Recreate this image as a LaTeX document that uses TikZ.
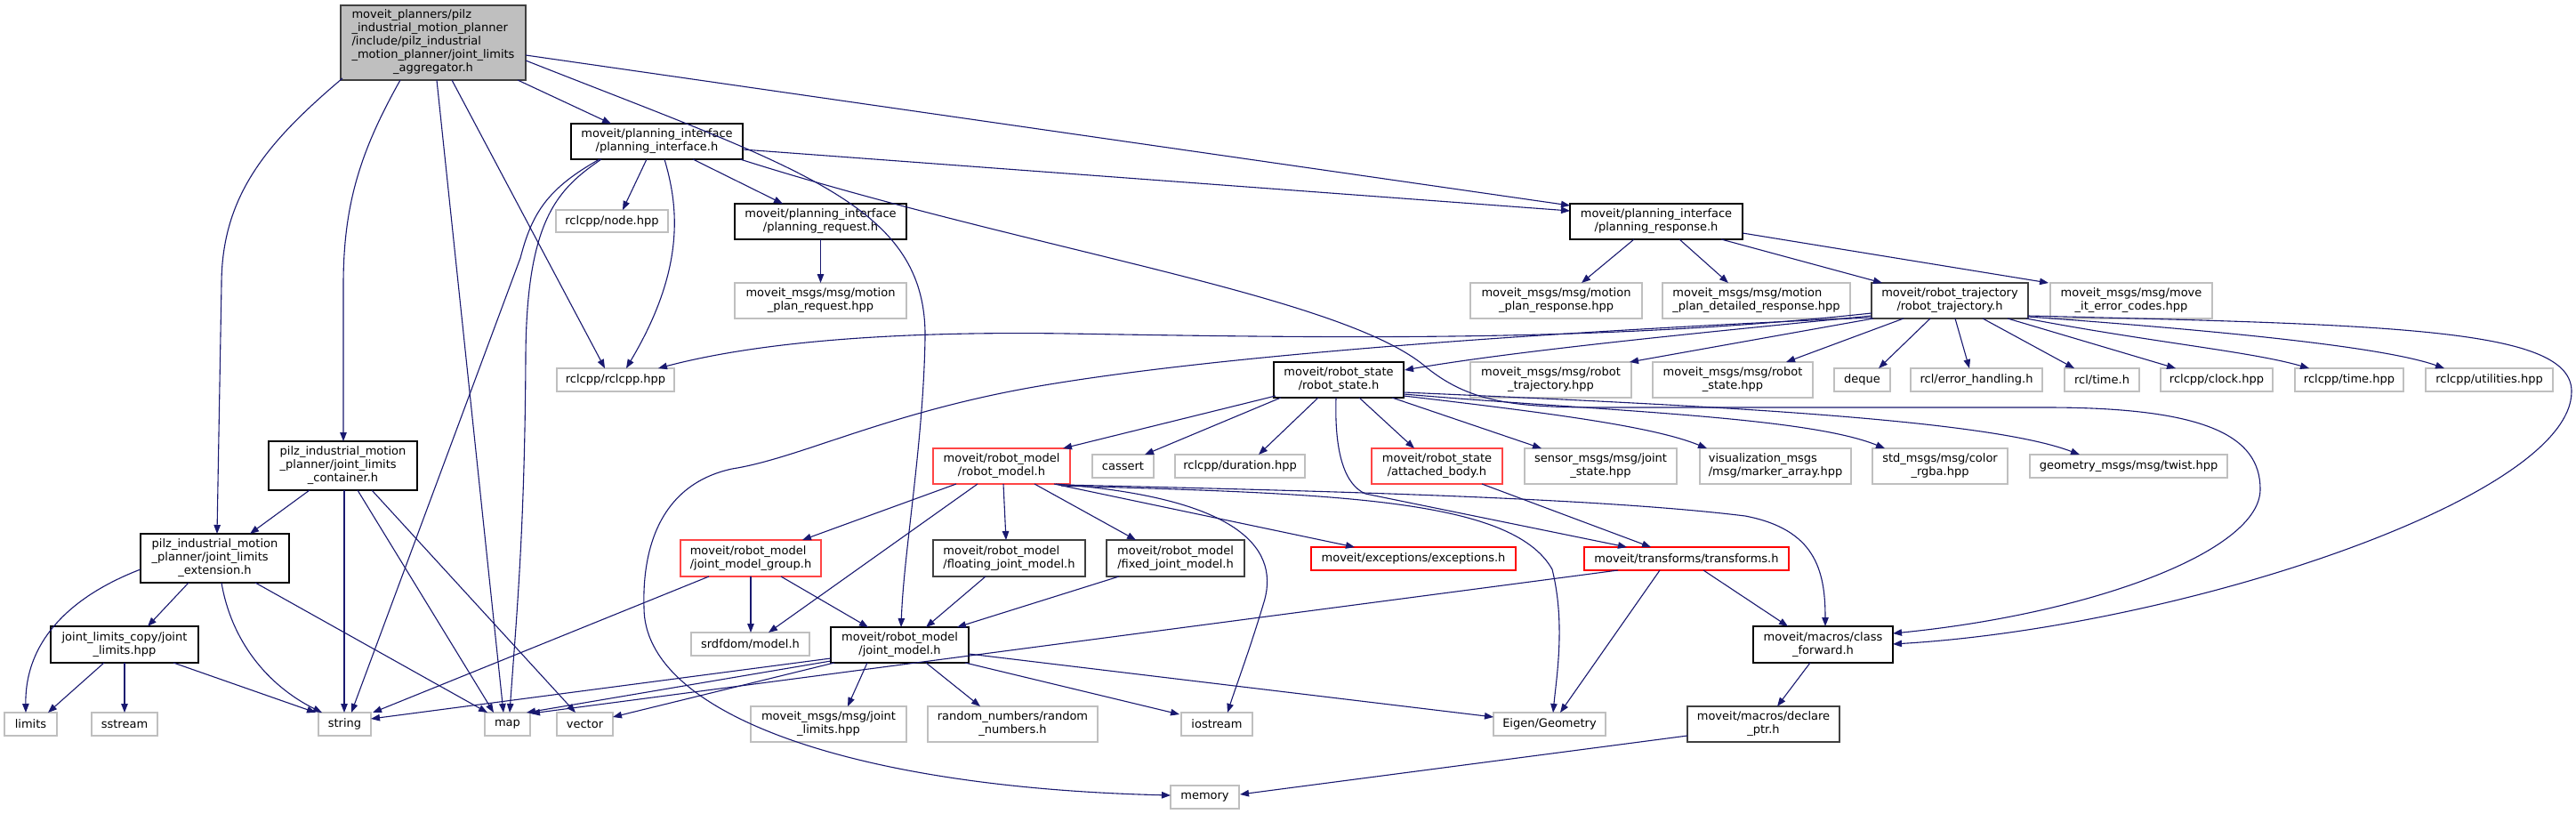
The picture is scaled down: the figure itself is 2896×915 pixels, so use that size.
\documentclass[tikz,border=0pt]{standalone}
\usepackage{fontspec}
\newfontfamily\dvs{DejaVu Sans}
\usetikzlibrary{arrows.meta,calc}
\definecolor{edgec}{HTML}{191970}
\definecolor{grayb}{HTML}{BFBFBF}
\definecolor{darkb}{HTML}{404040}
\definecolor{redl}{HTML}{FF4545}
\newcommand{\tb}[1]{\begin{tabular}{@{}l@{}}#1\end{tabular}}
\newcommand{\Lc}[1]{\multicolumn{1}{@{}c@{}}{#1}}
\begin{document}
\begin{tikzpicture}[x=1pt,y=-1pt,
 nb/.style={rectangle,inner sep=0pt,font=\dvs\fontsize{13}{15}\selectfont,text=black,fill=white},
 sz/.style 2 args={minimum width=#1pt,minimum height=#2pt},
 blk/.style={nb,draw=black,line width=1.3pt},
 dk/.style={nb,draw=darkb,line width=1.7pt},
 gry/.style={nb,draw=grayb,line width=1.5pt},
 rd/.style={nb,draw=red,line width=1.4pt},
 rdl/.style={nb,draw=redl,line width=1.6pt},
 mainb/.style={nb,draw=darkb,fill=grayb,line width=1.6pt},
 e/.style={draw=edgec,line width=1.1pt,-{Triangle[length=10pt,width=7.5pt]}}
]
\useasboundingbox[fill=white] (0,0) rectangle (2896,915);
% nodes
\node[mainb,sz={208}{84}] (main) at (487,48) {\tb{moveit\_planners/pilz\\\_industrial\_motion\_planner\\/include/pilz\_industrial\\\_motion\_planner/joint\_limits\\\Lc{\_aggregator.h}}};
\node[blk,sz={193}{40}] (pi) at (738.5,159) {\tb{moveit/planning\_interface\\\Lc{/planning\_interface.h}}};
\node[gry,sz={126}{25}] (nodehpp) at (688,248.5) {rclcpp/node.hpp};
\node[blk,sz={193}{40}] (preq) at (922.5,249) {\tb{moveit/planning\_interface\\\Lc{/planning\_request.h}}};
\node[gry,sz={193}{40}] (mpreq) at (922.5,338) {\tb{moveit\_msgs/msg/motion\\\Lc{\_plan\_request.hpp}}};
\node[gry,sz={132}{26}] (rclcpp) at (692,427) {rclcpp/rclcpp.hpp};
\node[blk,sz={194}{40}] (pr) at (1862,249) {\tb{moveit/planning\_interface\\\Lc{/planning\_response.h}}};
\node[gry,sz={193}{40}] (mpresp) at (1749.5,338) {\tb{moveit\_msgs/msg/motion\\\Lc{\_plan\_response.hpp}}};
\node[gry,sz={211}{40}] (mpdet) at (1974.5,338) {\tb{moveit\_msgs/msg/motion\\\Lc{\_plan\_detailed\_response.hpp}}};
\node[dk,sz={176}{40}] (rt) at (2192,338) {\tb{moveit/robot\_trajectory\\\Lc{/robot\_trajectory.h}}};
\node[gry,sz={182}{40}] (errc) at (2396,338) {\tb{moveit\_msgs/msg/move\\\Lc{\_it\_error\_codes.hpp}}};
\node[blk,sz={146}{40}] (rs) at (1505,427) {\tb{moveit/robot\_state\\\Lc{/robot\_state.h}}};
\node[gry,sz={181}{40}] (mrt) at (1743.5,427) {\tb{moveit\_msgs/msg/robot\\\Lc{\_trajectory.hpp}}};
\node[gry,sz={180}{40}] (mrs) at (1948,427) {\tb{moveit\_msgs/msg/robot\\\Lc{\_state.hpp}}};
\node[gry,sz={63}{26}] (deque) at (2093.5,427) {deque};
\node[gry,sz={148}{26}] (errh) at (2222,427) {rcl/error\_handling.h};
\node[gry,sz={84}{26}] (rcltime) at (2363,427) {rcl/time.h};
\node[gry,sz={126}{26}] (clock) at (2492,427) {rclcpp/clock.hpp};
\node[gry,sz={122}{26}] (rtime) at (2641,427) {rclcpp/time.hpp};
\node[gry,sz={143}{26}] (util) at (2798.5,427) {rclcpp/utilities.hpp};
\node[blk,sz={167}{55}] (cont) at (385.5,523.5) {\tb{pilz\_industrial\_motion\\\_planner/joint\_limits\\\Lc{\_container.h}}};
\node[rdl,sz={154}{40}] (rm) at (1126,524) {\tb{moveit/robot\_model\\\Lc{/robot\_model.h}}};
\node[gry,sz={69}{26}] (cassert) at (1262.5,524) {cassert};
\node[gry,sz={146}{26}] (dur) at (1394,524) {rclcpp/duration.hpp};
\node[rdl,sz={147}{40}] (ab) at (1615.5,524) {\tb{moveit/robot\_state\\\Lc{/attached\_body.h}}};
\node[gry,sz={171}{40}] (sjs) at (1799.5,524) {\tb{sensor\_msgs/msg/joint\\\Lc{\_state.hpp}}};
\node[gry,sz={170}{40}] (vis) at (1996,524) {\tb{visualization\_msgs\\\Lc{/msg/marker\_array.hpp}}};
\node[gry,sz={152}{40}] (rgba) at (2181,524) {\tb{std\_msgs/msg/color\\\Lc{\_rgba.hpp}}};
\node[gry,sz={222}{26}] (twist) at (2393,524) {geometry\_msgs/msg/twist.hpp};
\node[blk,sz={167}{55}] (ext) at (241.5,627.5) {\tb{pilz\_industrial\_motion\\\_planner/joint\_limits\\\Lc{\_extension.h}}};
\node[rdl,sz={158}{41}] (jmg) at (844,627.5) {\tb{moveit/robot\_model\\\Lc{/joint\_model\_group.h}}};
\node[dk,sz={171}{41}] (fjm) at (1134.5,627.5) {\tb{moveit/robot\_model\\\Lc{/floating\_joint\_model.h}}};
\node[dk,sz={155}{41}] (xjm) at (1321.5,627.5) {\tb{moveit/robot\_model\\\Lc{/fixed\_joint\_model.h}}};
\node[rd,sz={230}{26}] (exc) at (1589,628) {moveit/exceptions/exceptions.h};
\node[rd,sz={230}{26}] (tf) at (1896,628) {moveit/transforms/transforms.h};
\node[blk,sz={166}{41}] (jlc) at (140,724.5) {\tb{joint\_limits\_copy/joint\\\Lc{\_limits.hpp}}};
\node[gry,sz={133}{26}] (srdf) at (843.5,724) {srdfdom/model.h};
\node[blk,sz={155}{40}] (jm) at (1011.5,725) {\tb{moveit/robot\_model\\\Lc{/joint\_model.h}}};
\node[blk,sz={157}{41}] (cf) at (2049.5,724.5) {\tb{moveit/macros/class\\\Lc{\_forward.h}}};
\node[gry,sz={59}{26}] (limits) at (34.5,814) {limits};
\node[gry,sz={74}{26}] (sstream) at (140,814) {sstream};
\node[gry,sz={59}{26}] (string) at (387.5,814) {string};
\node[gry,sz={51}{26}] (map) at (570.5,814) {map};
\node[gry,sz={63}{26}] (vector) at (657.5,814) {vector};
\node[gry,sz={175}{40}] (mjl) at (931.5,814) {\tb{moveit\_msgs/msg/joint\\\Lc{\_limits.hpp}}};
\node[gry,sz={191}{40}] (rnd) at (1138.5,814) {\tb{random\_numbers/random\\\Lc{\_numbers.h}}};
\node[gry,sz={80}{26}] (ios) at (1368,814) {iostream};
\node[gry,sz={126}{26}] (eigen) at (1742,814) {Eigen/Geometry};
\node[dk,sz={171}{40}] (dp) at (1982.5,814) {\tb{moveit/macros/declare\\\Lc{\_ptr.h}}};
\node[gry,sz={77}{26}] (memory) at (1354.5,896) {memory};
% edges from main
\draw[e] ($(main)+(-102,40)$) .. controls (300,160) and (249,220) .. (249,320) -- ($(ext)+(2.5,-27.5)$);
\draw[e] ($(main)+(-37,42)$) .. controls (405,170) and (386,230) .. (386,320) -- ($(cont)+(0.5,-27.5)$);
\draw[e] ($(main)+(4,42)$) -- ($(map)+(-4.5,-13)$);
\draw[e] ($(main)+(21,42)$) -- ($(rclcpp)+(-12,-13)$);
\draw[e] ($(main)+(95,42)$) -- ($(pi)+(-51.5,-20)$);
\draw[e] ($(main)+(104,14)$) -- ($(pr)+(-97,-18)$);
\draw[e] ($(main)+(104,20)$) .. controls (900,190) and (1042,230) .. (1040,380) .. controls (1038,500) and (1016,620) .. ($(jm)+(1.5,-20)$);
% planning_interface
\draw[e] ($(pi)+(-11.5,20)$) -- ($(nodehpp)+(12,-12.5)$);
\draw[e] ($(pi)+(40.5,20)$) -- ($(preq)+(-42.5,-20)$);
\draw[e] ($(pi)+(8.5,20)$) .. controls (762,230) and (772,300) .. ($(rclcpp)+(12,-13)$);
\draw[e] ($(pi)+(-64.5,20)$) .. controls (615,212) and (598,240) .. (585,290) -- ($(string)+(7.5,-13)$);
\draw[e] ($(pi)+(-62.5,20)$) .. controls (628,212) and (592,245) .. (591,400) .. controls (590,600) and (580,700) .. ($(map)+(2.5,-13)$);
\draw[e] ($(pi)+(96.5,9)$) -- ($(pr)+(-97,-12)$);
\draw[e] ($(pi)+(93.5,20)$) .. controls (1150,280) and (1500,330) .. (1600,410) .. controls (1650,452) and (1700,458) .. (1800,458) -- (2300,458) .. controls (2480,458) and (2541,490) .. (2541,550) .. controls (2541,620) and (2350,690) .. ($(cf)+(78.5,-12.5)$);
\draw[e] ($(preq)+(0,20)$) -- ($(mpreq)+(0,-20)$);
% planning_response
\draw[e] ($(pr)+(-25,20)$) -- ($(mpresp)+(28.5,-20)$);
\draw[e] ($(pr)+(26,20)$) -- ($(mpdet)+(-31.5,-20)$);
\draw[e] ($(pr)+(73,20)$) -- ($(rt)+(-76,-20)$);
\draw[e] ($(pr)+(97,13)$) -- ($(errc)+(-93,-20)$);
% robot_trajectory
\draw[e] ($(rt)+(-88,17)$) .. controls (1900,375) and (1700,395) .. ($(rs)+(74,-11)$);
\draw[e] ($(rt)+(-86,20)$) -- ($(mrt)+(88.5,-20)$);
\draw[e] ($(rt)+(-52,20)$) -- ($(mrs)+(60,-20)$);
\draw[e] ($(rt)+(-22,20)$) -- ($(deque)+(18.5,-13)$);
\draw[e] ($(rt)+(6,20)$) -- ($(errh)+(-8,-13)$);
\draw[e] ($(rt)+(37,20)$) -- ($(rcltime)+(-31,-13)$);
\draw[e] ($(rt)+(65,20)$) -- ($(clock)+(-46,-13)$);
\draw[e] ($(rt)+(86,20)$) .. controls (2420,385) and (2530,395) .. ($(rtime)+(-45,-13)$);
\draw[e] ($(rt)+(88,18)$) .. controls (2500,372) and (2680,390) .. ($(util)+(-50.5,-13)$);
\draw[e] ($(rt)+(88,17)$) .. controls (2700,365) and (2891,370) .. (2891,440) .. controls (2891,560) and (2450,705) .. ($(cf)+(78.5,-0.5)$);
\draw[e] ($(rt)+(-88,14)$) .. controls (1800,385) and (1500,380) .. (1200,375) .. controls (1000,372) and (850,385) .. ($(rclcpp)+(48,-13)$);
\draw[e] ($(rt)+(-88,19)$) .. controls (1800,370) and (1400,395) .. (1174,433) .. controls (1000,462) and (900,515) .. (823,527) .. controls (740,545) and (722,620) .. (724,683) .. controls (724,800) and (950,885) .. ($(memory)+(-38.5,-2)$);
% robot_state
\draw[e] ($(rs)+(-71,18)$) -- ($(rm)+(69,-20)$);
\draw[e] ($(rs)+(-65,20)$) -- ($(cassert)+(24.5,-13)$);
\draw[e] ($(rs)+(-23,20)$) -- ($(dur)+(21,-13)$);
\draw[e] ($(rs)+(23,20)$) -- ($(ab)+(-25.5,-20)$);
\draw[e] ($(rs)+(60,20)$) -- ($(sjs)+(-66.5,-20)$);
\draw[e] ($(rs)+(73,18)$) .. controls (1750,465) and (1860,480) .. ($(vis)+(-77,-20)$);
\draw[e] ($(rs)+(73,16)$) .. controls (1800,462) and (2030,468) .. ($(rgba)+(-62,-20)$);
\draw[e] ($(rs)+(73,14)$) .. controls (1900,455) and (2230,470) .. ($(twist)+(-55,-13)$);
\draw[e] ($(rs)+(-3,20)$) .. controls (1500,510) and (1512,545) .. (1535,555) -- ($(tf)+(-67,-13)$);
% robot_model
\draw[e] ($(rm)+(-51,20)$) -- ($(jmg)+(58,-20.5)$);
\draw[e] ($(rm)+(-27,20)$) -- ($(srdf)+(20.5,-13)$);
\draw[e] ($(rm)+(2,20)$) -- ($(fjm)+(-3.5,-20.5)$);
\draw[e] ($(rm)+(37,20)$) -- ($(xjm)+(-44.5,-20.5)$);
\draw[e] ($(rm)+(59,20)$) -- ($(exc)+(-66,-13)$);
\draw[e] ($(rm)+(61,20)$) .. controls (1400,560) and (1440,620) .. (1420,680) .. controls (1405,730) and (1390,770) .. ($(ios)+(12,-13)$);
\draw[e] ($(rm)+(67,22)$) .. controls (1500,555) and (1700,560) .. (1745,640) .. controls (1760,700) and (1750,760) .. ($(eigen)+(4,-13)$);
\draw[e] ($(rm)+(69,21)$) .. controls (1500,552) and (1800,560) .. (1962,580) .. controls (2040,595) and (2052,640) .. ($(cf)+(2.5,-20.5)$);
% attached body, transforms, macros
\draw[e] ($(ab)+(50.5,20)$) -- ($(tf)+(-40,-13)$);
\draw[e] ($(tf)+(-77,13)$) -- ($(map)+(26.5,-12)$);
\draw[e] ($(tf)+(-30,13)$) -- ($(eigen)+(12,-13)$);
\draw[e] ($(tf)+(19,13)$) -- ($(cf)+(-39.5,-20.5)$);
\draw[e] ($(cf)+(-14.5,20.5)$) -- ($(dp)+(15.5,-20)$);
\draw[e] ($(dp)+(-85.5,13)$) -- ($(memory)+(39.5,-3)$);
% joint model group, floating, fixed
\draw[e] ($(jmg)+(-47,20.5)$) -- ($(string)+(31.5,-13)$);
\draw[e] ($(jmg)+(0,20.5)$) -- ($(srdf)+(0.5,-13)$);
\draw[e] ($(jmg)+(34,20.5)$) -- ($(jm)+(-35.5,-20)$);
\draw[e] ($(fjm)+(-26.5,20.5)$) -- ($(jm)+(29.5,-20)$);
\draw[e] ($(xjm)+(-63.5,20.5)$) -- ($(jm)+(64.5,-20)$);
% joint model
\draw[e] ($(jm)+(-77.5,15)$) -- ($(string)+(29.5,-6)$);
\draw[e] ($(jm)+(-77.5,18)$) -- ($(map)+(21.5,-13)$);
\draw[e] ($(jm)+(-73.5,20)$) -- ($(vector)+(31.5,-8)$);
\draw[e] ($(jm)+(-36.5,20)$) -- ($(mjl)+(21.5,-20)$);
\draw[e] ($(jm)+(29.5,20)$) -- ($(rnd)+(-36.5,-20)$);
\draw[e] ($(jm)+(73.5,20)$) -- ($(ios)+(-42,-11)$);
\draw[e] ($(jm)+(77.5,10)$) -- ($(eigen)+(-63,-8)$);
% container, extension, copy
\draw[e] ($(cont)+(-37.5,27.5)$) -- ($(ext)+(39.5,-27.5)$);
\draw[e] ($(cont)+(1.5,27.5)$) -- ($(string)+(-0.5,-13)$);
\draw[e] ($(cont)+(16.5,27.5)$) -- ($(map)+(-15.5,-13)$);
\draw[e] ($(cont)+(32.5,27.5)$) -- ($(vector)+(-10.5,-13)$);
\draw[e] ($(ext)+(-83.5,12.5)$) .. controls (80,670) and (28,720) .. ($(limits)+(-5.5,-13)$);
\draw[e] ($(ext)+(-29.5,27.5)$) -- ($(jlc)+(26,-20.5)$);
\draw[e] ($(ext)+(7.5,27.5)$) .. controls (260,720) and (300,770) .. ($(string)+(-25.5,-13)$);
\draw[e] ($(ext)+(45.5,27.5)$) -- ($(map)+(-22.5,-13)$);
\draw[e] ($(jlc)+(-23,20.5)$) -- ($(limits)+(19.5,-13)$);
\draw[e] ($(jlc)+(0,20.5)$) -- ($(sstream)+(0,-13)$);
\draw[e] ($(jlc)+(55,20.5)$) -- ($(string)+(-32.5,-13)$);
\end{tikzpicture}
\end{document}
